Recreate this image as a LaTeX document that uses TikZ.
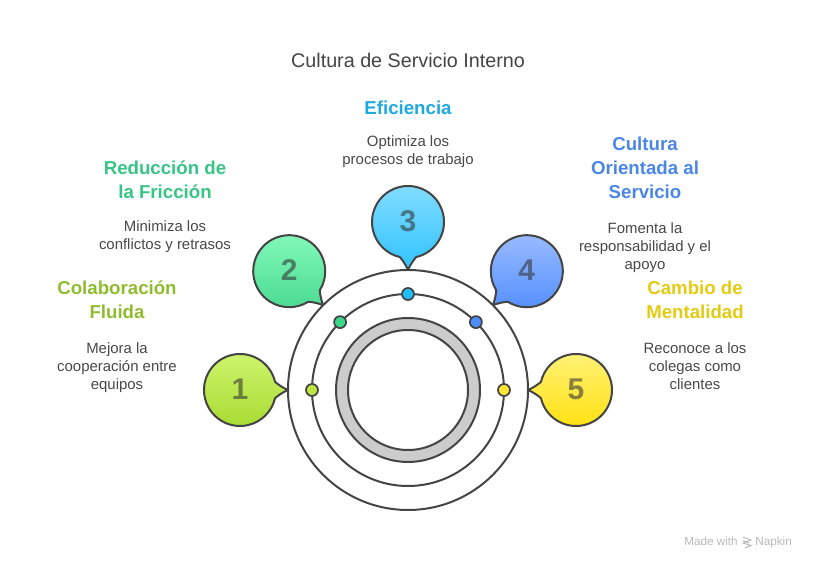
\documentclass[tikz,border=0pt]{standalone}
\usepackage{fontspec}
\setmainfont{Liberation Sans}
\usetikzlibrary{positioning, calc}

\definecolor{ink}{HTML}{444444}
\definecolor{body}{HTML}{484848}
\definecolor{top1}{HTML}{D0F56F}
\definecolor{bot1}{HTML}{A6DB30}
\definecolor{top2}{HTML}{84FABB}
\definecolor{bot2}{HTML}{4BDB92}
\definecolor{top3}{HTML}{84DDFF}
\definecolor{bot3}{HTML}{30C3FF}
\definecolor{top4}{HTML}{9CBDFF}
\definecolor{bot4}{HTML}{528EFF}
\definecolor{top5}{HTML}{FFF27A}
\definecolor{bot5}{HTML}{FFE10F}
\definecolor{dot1}{HTML}{BCE645}
\definecolor{dot2}{HTML}{3ED68A}
\definecolor{dot3}{HTML}{1FBFFF}
\definecolor{dot4}{HTML}{4C8CFF}
\definecolor{dot5}{HTML}{FFE433}
\definecolor{head1}{HTML}{8FBC2F}
\definecolor{head2}{HTML}{36C585}
\definecolor{head3}{HTML}{1EA9DF}
\definecolor{head4}{HTML}{4A86E8}
\definecolor{head5}{HTML}{E3CB14}

\begin{document}
\begin{tikzpicture}
    [
        x=0.75pt, y=0.75pt,
        ring/.style={draw=ink, circle, line width=1.5pt, inner sep=0pt, outer sep=0pt},
        dotmark/.style={draw=ink, circle, line width=1.3pt, inner sep=0pt, outer sep=0pt, minimum size=9pt},
        bubble/.style={draw=ink, line width=1.5pt, line join=round},
        digit/.style={text=black!80, text opacity=0.58, font=\fontsize{22.5}{26}\selectfont\bfseries},
        heading/.style={anchor=north, align=center, inner sep=0pt, font=\fontsize{14}{18}\selectfont\bfseries},
        blurb/.style={anchor=north, align=center, inner sep=0pt, text=body, font=\fontsize{11.2}{13.5}\selectfont},
        brand/.style={text=black!28, inner sep=0pt, font=\fontsize{8.8}{10}\selectfont}
    ]
        \useasboundingbox (0,0) rectangle (816,570);
        % =========================================================================
        % RINGS
        % =========================================================================
        \coordinate (ctr) at (408,180);
        \node [ring, minimum size=180pt] (outer) at (ctr) {};
        \node [ring, minimum size=144pt] (middle) at (ctr) {};
        \node [ring, minimum size=108pt, fill=black!20] (band) at (ctr) {};
        \node [ring, minimum size=90pt, fill=white] (hole) at (ctr) {};

        % =========================================================================
        % BUBBLES
        % =========================================================================
        \foreach \i/\ang in {1/180, 2/135, 3/90, 4/45, 5/0} {
            \coordinate (tip\i) at ($(ctr)+(\ang:120)$);
            \coordinate (mid\i) at ($(ctr)+(\ang:168)$);
            \node [dotmark, fill=dot\i] (dot\i) at ($(ctr)+(\ang:96)$) {};
            \shadedraw [bubble, top color=top\i, bottom color=bot\i]
                (tip\i) to [bend left=7] ($(mid\i)+(\ang+193:36)$)
                arc [start angle=\ang+193, delta angle=334, radius=36]
                to [bend left=7] (tip\i) -- cycle;
            \node [digit, yshift=0.75pt] (num\i) at (mid\i) {\i};
        }

        % =========================================================================
        % TEXTS
        % =========================================================================
        \node [anchor=center, inner sep=0pt, text=ink, font=\fontsize{14.8}{18}\selectfont] (title) at (408,510) {Cultura de Servicio Interno};
        % --- 1 ---
        \node [heading, text=head1] (head1) at (117,289) {Colaboración\\Fluida};
        \node [blurb, below=17.5pt of head1] (text1) {Mejora la\\cooperación entre\\equipos};
        % --- 2 ---
        \node [heading, text=head2] (head2) at (165,409) {Reducción de\\la Fricción};
        \node [blurb, below=15.5pt of head2] (text2) {Minimiza los\\conflictos y retrasos};
        % --- 3 ---
        \node [heading, text=head3] (head3) at (408,469) {Eficiencia};
        \node [blurb, below=15.5pt of head3] (text3) {Optimiza los\\procesos de trabajo};
        % --- 4 ---
        \node [heading, text=head4] (head4) at (645,433) {Cultura\\Orientada al\\Servicio};
        \node [blurb, below=17.5pt of head4] (text4) {Fomenta la\\responsabilidad y el\\apoyo};
        % --- 5 ---
        \node [heading, text=head5] (head5) at (695,289) {Cambio de\\Mentalidad};
        \node [blurb, below=17.5pt of head5] (text5) {Reconoce a los\\colegas como\\clientes};

        % =========================================================================
        % BRAND
        % =========================================================================
        \node [brand, anchor=base west] (made) at (684,24) {Made with};
        \node [brand, anchor=base west] (napkin) at (755,24) {Napkin};
        \draw [black!28, line width=0.7pt]
            (743,33) -- (751,30) -- (743,27) -- (751,24.5) -- (745,22)
            (743,29.5) -- (749,27);
    \end{tikzpicture}
\end{document}
